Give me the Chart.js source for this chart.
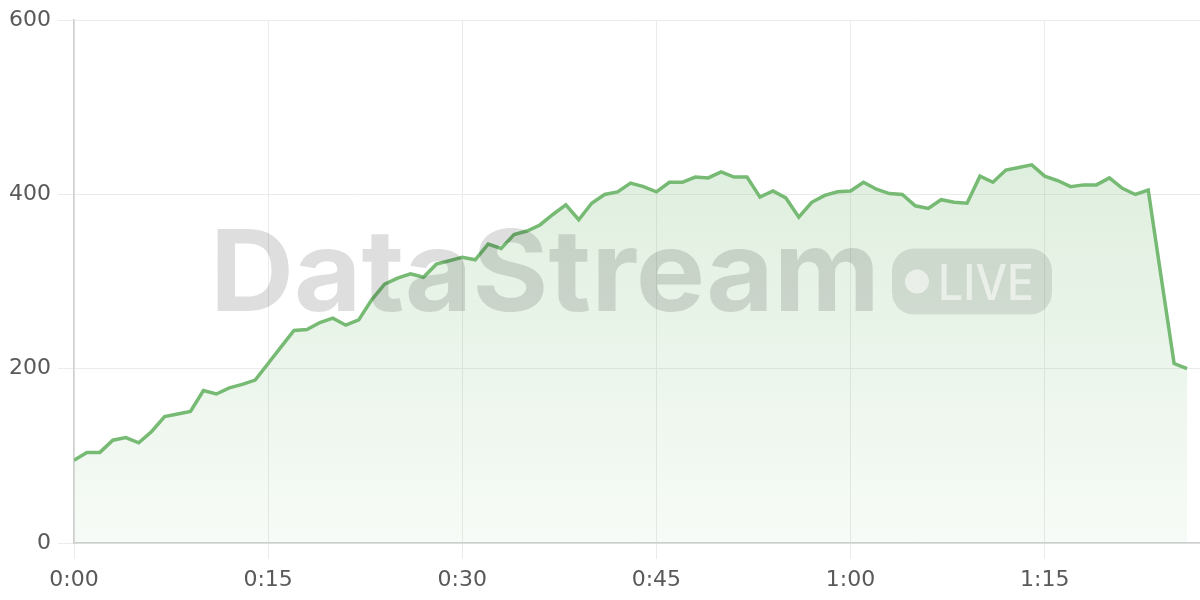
<!DOCTYPE html>
<html>
<head>
<meta charset="utf-8">
<script src="https://cdn.jsdelivr.net/npm/chart.js@4.4.1/dist/chart.umd.min.js"></script>
<style>
  html, body { margin: 0; padding: 0; background: #ffffff; }
  #wrap { width: 1200px; height: 600px; }
</style>
</head>
<body>
<div id="wrap"><canvas id="canvas-stream"></canvas></div>
<script>
// one value per minute, 0:00 .. 1:26
const streamValues = [
  95, 104, 104, 118, 121, 115, 128, 145, 148, 151,
  175, 171, 178, 182, 187, 206, 225, 244, 245, 253,
  258, 250, 256, 279, 297, 304, 309, 305, 320, 324,
  328, 325, 343, 338, 354, 358, 365, 377, 388, 371,
  390, 400, 403, 413, 409, 403, 414, 414, 420, 419,
  426, 420, 420, 397, 404, 396, 374, 391, 399, 403,
  404, 414, 406, 401, 400, 387, 384, 394, 391, 390,
  421, 414, 428, 431, 434, 421, 416, 409, 411, 411,
  419, 407, 400, 405, 305, 206, 200,
];
const minutes = streamValues.map((v, i) => i);
const xTickValues = [0, 15, 30, 45, 60, 75];
const xTickLabels = ["0:00", "0:15", "0:30", "0:45", "1:00", "1:15"];
const yTickValues = [0, 200, 400, 600];

const lineColor = "rgb(118, 186, 116)";
const gridColor = "#ebebeb";
const axisColor = "#d0d0d0";
const textColor = "#595959";
const tickFont = { family: "'DejaVu Sans', sans-serif", size: 22 };

// draws a text squeezed or stretched to a given width
function fitText(ctx, text, x, y, width) {
  const natural = ctx.measureText(text).width;
  ctx.save();
  ctx.translate(x, y);
  ctx.scale(width / natural, 1);
  ctx.fillText(text, 0, 0);
  ctx.restore();
}

const watermark = {
  id: "watermark",
  afterDatasetsDraw(chart) {
    const { ctx, chartArea } = chart;
    const cy = (chartArea.top + chartArea.bottom) / 2;
    const left = chartArea.left + 136;
    const wordWidth = 670;

    ctx.save();
    ctx.textBaseline = "alphabetic";
    ctx.font = "bold 113px Inter, sans-serif";
    ctx.fillStyle = "rgba(0, 0, 0, 0.13)";
    fitText(ctx, "DataStream", left, cy + 29, wordWidth);

    const badgeW = 160, badgeH = 66;
    const bx = left + wordWidth + 12;
    const by = cy - badgeH / 2;
    ctx.fillStyle = "rgba(0, 0, 0, 0.1)";
    ctx.beginPath();
    ctx.roundRect(bx, by, badgeW, badgeH, 22);
    ctx.fill();

    ctx.fillStyle = "rgba(255, 255, 255, 0.55)";
    ctx.beginPath();
    ctx.arc(bx + 25, cy, 12, 0, Math.PI * 2);
    ctx.fill();
    ctx.font = "500 50px Inter, sans-serif";
    fitText(ctx, "LIVE", bx + 46, cy + 18, 96);
    ctx.restore();
  },
};

function initChart() {
  const ctx = document.getElementById("canvas-stream").getContext("2d");

  new Chart(ctx, {
    type: "line",
    data: {
      datasets: [
        {
          label: "Stream",
          data: streamValues.map((v, i) => ({ x: minutes[i], y: v })),
          borderColor: lineColor,
          borderWidth: 3.5,
          pointRadius: 0,
          tension: 0,
          fill: "origin",
          backgroundColor(context) {
            const area = context.chart.chartArea;
            if (!area) return "rgba(118, 186, 116, 0.15)";
            const g = context.chart.ctx.createLinearGradient(0, area.top, 0, area.bottom);
            g.addColorStop(0, "rgba(118, 186, 116, 0.3)");
            g.addColorStop(1, "rgba(118, 186, 116, 0.06)");
            return g;
          },
        },
      ],
    },
    options: {
      responsive: true,
      maintainAspectRatio: false,
      animation: false,
      layout: { padding: { top: 19, right: 0, left: 0, bottom: 0 } },
      plugins: {
        legend: { display: false },
        tooltip: { enabled: false },
      },
      scales: {
        x: {
          type: "linear",
          min: 0,
          max: 87,
          afterBuildTicks(scale) {
            scale.ticks = xTickValues.map((v) => ({ value: v }));
          },
          afterFit(scale) {
            scale.height = 57;
          },
          ticks: {
            color: textColor,
            font: tickFont,
            padding: 8,
            maxRotation: 0,
            callback: (v) => xTickLabels[xTickValues.indexOf(v)],
          },
          grid: { color: gridColor, tickLength: 16, tickColor: gridColor },
          border: { color: axisColor, width: 1.5 },
        },
        y: {
          min: 0,
          max: 600,
          afterBuildTicks(scale) {
            scale.ticks = yTickValues.map((v) => ({ value: v }));
          },
          afterFit(scale) {
            scale.width = 74;
          },
          ticks: { color: textColor, font: tickFont, padding: 7 },
          grid: { color: gridColor, tickLength: 16, tickColor: gridColor },
          border: { color: axisColor, width: 1.5 },
        },
      },
    },
    plugins: [watermark],
  });
}

initChart();
</script>
</body>
</html>
